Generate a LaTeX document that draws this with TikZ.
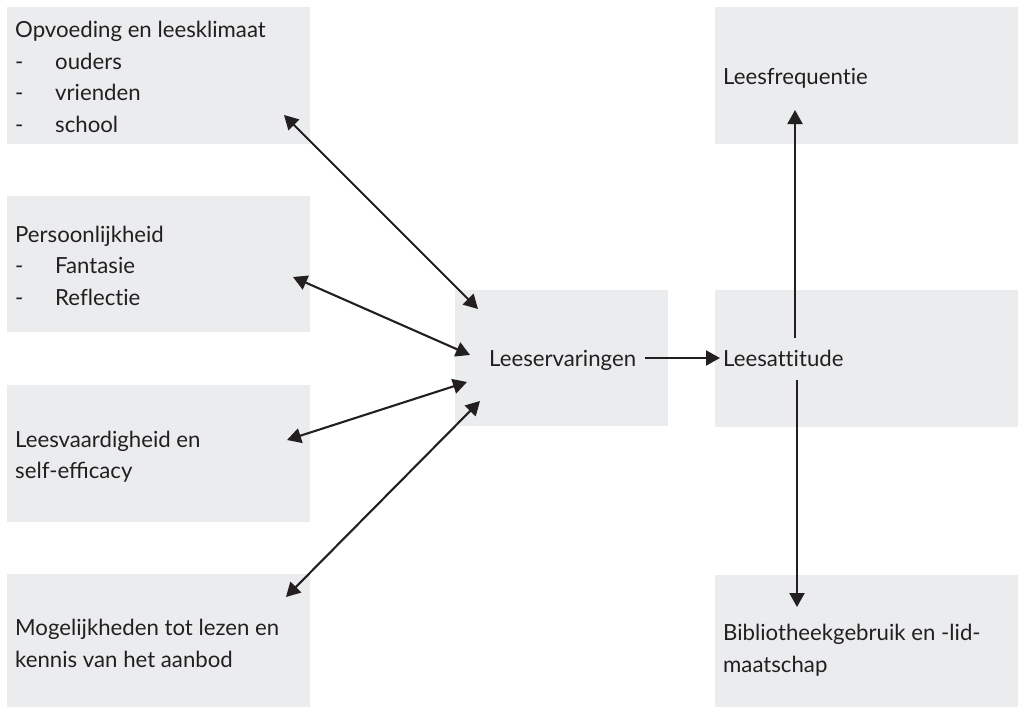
\documentclass[tikz,border=0pt]{standalone}
\usepackage{fontspec}
\setmainfont{Lato}[Ligatures=NoCommon]
\newfontfamily\ligfont{Lato}
\usetikzlibrary{arrows.meta}
\definecolor{boxgray}{HTML}{EBECEE}
\definecolor{inkc}{HTML}{231F20}
\begin{document}
\begin{tikzpicture}[x=1pt,y=-1pt,
  box/.style={fill=boxgray, draw=none, inner sep=0pt, outer sep=0pt, anchor=north west},
  txt/.style={anchor=base west, inner sep=0pt, font=\fontsize{22.2}{32}\selectfont, text=inkc},
  dconn/.style={line width=2.1pt, draw=inkc, {Triangle[length=14pt,width=15pt]}-{Triangle[length=14pt,width=15pt]}},
  sconn/.style={line width=2.1pt, draw=inkc, -{Triangle[length=14pt,width=15pt]}}]
\useasboundingbox (0,0) rectangle (1018,707);
% boxes
\node[box, minimum width=303pt, minimum height=137pt] (b1) at (7,7) {};
\node[box, minimum width=303pt, minimum height=136pt] (b2) at (7,196) {};
\node[box, minimum width=303pt, minimum height=137pt] (b3) at (7,385) {};
\node[box, minimum width=303pt, minimum height=133pt] (b4) at (7,574) {};
\node[box, minimum width=213pt, minimum height=136pt] (bm) at (455,290) {};
\node[box, minimum width=303pt, minimum height=137pt] (br1) at (715,7) {};
\node[box, minimum width=303pt, minimum height=137pt] (br2) at (715,290) {};
\node[box, minimum width=303pt, minimum height=132pt] (br3) at (715,575) {};
% texts
\node[txt] (t1) at (15,37) {Opvoeding en leesklimaat};
\node[txt] (d1a) at (15,69) {-};
\node[txt] (t1a) at (55,69) {ouders};
\node[txt] (d1b) at (15,100) {-};
\node[txt] (t1b) at (55,100) {vrienden};
\node[txt] (d1c) at (15,132) {-};
\node[txt] (t1c) at (55,132) {school};
\node[txt] (t2) at (15,242) {Persoonlijkheid};
\node[txt] (d2a) at (15,273) {-};
\node[txt] (t2a) at (55,273) {Fantasie};
\node[txt] (d2b) at (15,305) {-};
\node[txt] (t2b) at (55,305) {Reflectie};
\node[txt] (t3a) at (15,447) {Leesvaardigheid en};
\node[txt] (t3b) at (15,478) {\ligfont self-efficacy};
\node[txt] (t4a) at (15,635) {Mogelijkheden tot lezen en};
\node[txt] (t4b) at (15,667) {kennis van het aanbod};
\node[txt] (tm) at (489,366) {Leeservaringen};
\node[txt] (tr1) at (723,84) {Leesfrequentie};
\node[txt] (tr2) at (723,366) {Leesattitude};
\node[txt] (tr3a) at (723,640) {Bibliotheekgebruik en -lid-};
\node[txt] (tr3b) at (723,672) {maatschap};
% connector ends
\coordinate (a1s) at (284,115); \coordinate (a1e) at (478,309);
\coordinate (a2s) at (293,277); \coordinate (a2e) at (470,355);
\coordinate (a3s) at (287,440); \coordinate (a3e) at (467,382);
\coordinate (a4s) at (286,597); \coordinate (a4e) at (480,401);
\coordinate (hs) at (645,358); \coordinate (he) at (720,358);
\coordinate (us) at (795,338); \coordinate (ue) at (795,110);
\coordinate (ds) at (797,380); \coordinate (de) at (797,607);
% connectors
\draw[dconn] (a1s) -- (a1e);
\draw[dconn] (a2s) -- (a2e);
\draw[dconn] (a3s) -- (a3e);
\draw[dconn] (a4s) -- (a4e);
\draw[sconn] (hs) -- (he);
\draw[sconn] (us) -- (ue);
\draw[sconn] (ds) -- (de);
\end{tikzpicture}
\end{document}
